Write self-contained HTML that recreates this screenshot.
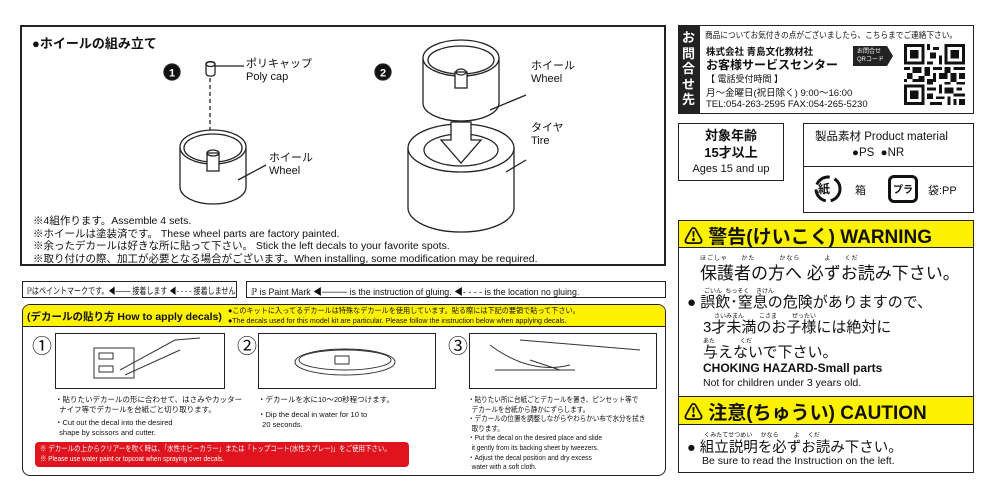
<!DOCTYPE html>
<html><head><meta charset="utf-8"><style>
*{margin:0;padding:0;box-sizing:border-box}
body{width:1000px;height:499px;background:#fff;position:relative;overflow:hidden;font-family:"Liberation Sans","Noto Sans CJK JP",sans-serif;color:#111}
.a{position:absolute;white-space:nowrap}
.box{position:absolute;border:1.5px solid #222}
.b{font-weight:bold}
.yl{background:#fff200}
.sx{transform-origin:0 0}
</style></head><body>

<div class="box" style="left:20px;top:25px;width:646px;height:241px;border-width:2px"></div>
<div class="a b" style="left:32px;top:33px;font-size:13px">●ホイールの組み立て</div>

<svg class="a" style="left:0;top:0" width="670" height="270">
 <g fill="none" stroke="#222" stroke-width="1.3">
  <circle cx="172" cy="72" r="8" fill="#111"/>
  <rect x="206" y="62" width="9" height="14" rx="3" fill="#fff"/>
  <ellipse cx="210.5" cy="64" rx="4.5" ry="2.5"/>
  <line x1="215" y1="66" x2="244" y2="66"/>
  <line x1="210" y1="78" x2="210" y2="156" stroke-dasharray="4 3"/>
  <path d="M180 147 v40 a33 17 0 0 0 66 0 v-40"/>
  <ellipse cx="213" cy="147" rx="33" ry="17" fill="#fff"/>
  <ellipse cx="213" cy="148" rx="29" ry="14"/>
  <rect x="207" y="153" width="12" height="18" fill="#fff"/>
  <ellipse cx="213" cy="153" rx="6" ry="3"/>
  <line x1="238" y1="180" x2="266" y2="165"/>
  <circle cx="383" cy="72" r="8" fill="#111"/>
  <path d="M423 58 v45 a38 18 0 0 0 76 0 v-45"/>
  <ellipse cx="461" cy="58" rx="38" ry="18" fill="#fff"/>
  <ellipse cx="461" cy="60" rx="33" ry="14"/>
  <rect x="455" y="72" width="12" height="16" fill="#fff"/>
  <ellipse cx="461" cy="72" rx="5" ry="3"/>
  <line x1="490" y1="110" x2="526" y2="95"/>
  <path d="M408 148 v60 a53 24 0 0 0 106 0 v-60"/>
  <ellipse cx="461" cy="148" rx="53" ry="24" fill="#fff"/>
  <ellipse cx="461" cy="150" rx="37" ry="16"/>
  <polygon points="451,122 471,122 471,140 481,140 461,163 441,140 451,140" fill="#fff"/>
  <line x1="506" y1="172" x2="526" y2="160"/>
 </g>
 <text x="172" y="76.5" fill="#fff" font-size="11" font-weight="bold" text-anchor="middle" font-family="Liberation Sans">1</text>
 <text x="383" y="76.5" fill="#fff" font-size="11" font-weight="bold" text-anchor="middle" font-family="Liberation Sans">2</text>
</svg>
<div class="a" style="left:246px;top:58px;font-size:11px;line-height:13px">ポリキャップ<br>Poly cap</div>
<div class="a" style="left:269px;top:152px;font-size:11px;line-height:13px">ホイール<br>Wheel</div>
<div class="a" style="left:531px;top:60px;font-size:11px;line-height:13px">ホイール<br>Wheel</div>
<div class="a" style="left:531px;top:122px;font-size:11px;line-height:13px">タイヤ<br>Tire</div>

<div class="a" style="left:33px;top:215px;font-size:10.5px;line-height:12.5px">※4組作ります。Assemble 4 sets.<br>※ホイールは塗装済です。 These wheel parts are factory painted.<br>※余ったデカールは好きな所に貼って下さい。 Stick the left decals to your favorite spots.<br>※取り付けの際、加工が必要となる場合がございます。When installing, some modification may be required.</div>

<div class="box" style="left:22px;top:281px;width:215px;height:17px;border-width:1px"></div>
<div class="a sx" style="left:27px;top:284px;font-size:9px;transform:scaleX(0.78)">&#x2119;はペイントマークです。◀─── 接着します ◀- - - - 接着しません</div>
<div class="box" style="left:246px;top:281px;width:420px;height:17px;border-width:1px"></div>
<div class="a sx" style="left:251px;top:284px;font-size:9.5px;transform:scaleX(0.93)">&#x2119; is Paint Mark ◀──── is the instruction of gluing. ◀- - - - is the location no gluing.</div>

<div class="box" style="left:22px;top:304px;width:644px;height:172px;border-radius:8px;overflow:hidden;border-width:1.5px">
 <div class="yl" style="height:22px;border-bottom:1px solid #222"></div>
</div>
<div class="a b" style="left:27px;top:309px;font-size:10.5px">(デカールの貼り方 How to apply decals)</div>
<div class="a sx" style="left:228px;top:306px;font-size:7.5px;line-height:9.5px;transform:scaleX(0.95)">●このキットに入ってるデカールは特殊なデカールを使用しています。貼る際には下記の要領で貼って下さい。<br>●The decals used for this model kit are particular. Please follow the instruction below when applying decals.</div>

<div class="a" style="left:32px;top:330px;font-size:20px">①</div>
<div class="box" style="left:55px;top:333px;width:170px;height:56px;border-width:1px"></div>
<div class="a" style="left:237px;top:330px;font-size:20px">②</div>
<div class="box" style="left:258px;top:333px;width:178px;height:56px;border-width:1px"></div>
<div class="a" style="left:448px;top:330px;font-size:20px">③</div>
<div class="box" style="left:469px;top:333px;width:188px;height:56px;border-width:1px"></div>
<svg class="a" style="left:0;top:0" width="670" height="400"><g fill="none" stroke="#333" stroke-width="1">
 <rect x="94" y="348" width="40" height="30"/><rect x="99" y="353" width="14" height="6"/><rect x="99" y="366" width="14" height="6"/>
 <path d="M120 370 L175 340 L200 338 M125 375 L180 350"/>
 <ellipse cx="345" cy="362" rx="50" ry="13"/><ellipse cx="345" cy="360" rx="46" ry="10"/><rect x="335" y="356" width="14" height="8"/>
 <path d="M490 345 q40 30 80 20 M520 340 L640 350 M530 360 L560 370 M495 370 h80"/>
</g></svg>

<div class="a" style="left:55px;top:395px;font-size:7.5px;line-height:10px">・貼りたいデカールの形に合わせて、はさみやカッター<br>&nbsp;&nbsp;ナイフ等でデカールを台紙ごと切り取ります。</div>
<div class="a" style="left:55px;top:418px;font-size:7.5px;line-height:10px">・Cut out the decal into the desired<br>&nbsp;&nbsp;shape by scissors and cutter.</div>
<div class="a" style="left:258px;top:395px;font-size:7.5px;line-height:10px">・デカールを水に10～20秒程つけます。</div>
<div class="a" style="left:258px;top:410px;font-size:7.5px;line-height:10px">・Dip the decal in water for 10 to<br>&nbsp;&nbsp;20 seconds.</div>
<div class="a sx" style="left:468px;top:395px;font-size:7.3px;line-height:9.6px;transform:scaleX(0.9)">・貼りたい所に台紙ごとデカールを置き、ピンセット等で<br>&nbsp;&nbsp;デカールを台紙から静かにずらします。<br>・デカールの位置を調整しながらやわらかい布で水分を拭き<br>&nbsp;&nbsp;取ります。<br>・Put the decal on the desired place and slide<br>&nbsp;&nbsp;it gently from its backing sheet by tweezers.<br>・Adjust the decal position and dry excess<br>&nbsp;&nbsp;water with a soft cloth.</div>
<div class="a" style="left:35px;top:442px;width:374px;height:25px;background:#e0141e;border-radius:4px"></div>
<div class="a sx" style="left:40px;top:444px;font-size:7.5px;line-height:10px;color:#fff;transform:scaleX(0.86)">※ デカールの上からクリアーを吹く時は、「水性ホビーカラー」または「トップコート(水性スプレー)」をご使用下さい。<br>※ Please use water paint or topcoat when spraying over decals.</div>

<div class="box" style="left:678px;top:25px;width:296px;height:89px;border-width:1.5px"></div>
<div class="a" style="left:678px;top:25px;width:22px;height:89px;background:#222"></div>
<div class="a b" style="left:682px;top:30px;font-size:13px;line-height:15.5px;color:#fff;white-space:normal;width:15px">お問合せ先</div>
<div class="a sx" style="left:705px;top:29px;font-size:8.5px;transform:scaleX(0.9)">商品についてお気付きの点がございましたら、こちらまでご連絡下さい。</div>
<div class="a b" style="left:706px;top:44px;font-size:9.5px">株式会社 青島文化教材社</div>
<div class="a b" style="left:706px;top:56px;font-size:12px">お客様サービスセンター</div>
<div class="a" style="left:706px;top:72px;font-size:9px">【 電話受付時間 】</div>
<div class="a" style="left:706px;top:85px;font-size:9.5px">月～金曜日(祝日除く) 9:00～16:00</div>
<div class="a" style="left:706px;top:99px;font-size:9.5px">TEL:054-263-2595 FAX:054-265-5230</div>
<div class="a" style="left:853px;top:46px;width:40px;height:20px;background:#222;clip-path:polygon(0 0,85% 0,100% 50%,85% 100%,0 100%)"></div>
<div class="a" style="left:857px;top:48px;font-size:6px;line-height:8px;color:#fff">お問合せ<br>QRコード</div>
<svg class="a" style="left:904px;top:44px" width="61" height="61" viewBox="0 0 21 21" shape-rendering="crispEdges">
 <g fill="#111"><path d="M0 0h7v7h-7z M14 0h7v7h-7z M0 14h7v7h-7z" /></g>
 <g fill="#fff"><path d="M1 1h5v5h-5z M15 1h5v5h-5z M1 15h5v5h-5z"/></g>
 <g fill="#111"><path d="M2 2h3v3h-3z M16 2h3v3h-3z M2 16h3v3h-3z
 M8 0h1v2h-1z M10 1h2v1h-2z M9 3h2v2h-2z M12 4h1v3h-1z M8 6h2v1h-2z
 M0 8h2v1h-2z M3 8h3v2h-3z M7 8h2v3h-2z M10 8h3v1h-3z M14 8h2v2h-2z M17 8h4v1h-4z
 M1 10h2v2h-2z M5 11h2v1h-2z M10 10h1v3h-1z M12 10h3v2h-3z M16 10h2v3h-2z M19 10h2v2h-2z
 M0 12h1v1h-1z M3 12h4v1h-4z M8 12h2v2h-2z M14 13h2v1h-2z M18 13h3v1h-3z
 M8 15h3v1h-3z M12 14h1v3h-1z M14 15h3v2h-3z M18 15h2v1h-2z
 M8 17h2v2h-2z M11 18h3v1h-3z M15 18h1v3h-1z M17 17h4v1h-4z M19 19h2v2h-2z M9 20h4v1h-4z M17 19h1v2h-1z"/></g>
</svg>

<div class="box" style="left:678px;top:123px;width:106px;height:58px;border-width:1px"></div>
<div class="a b" style="left:678px;top:127px;width:106px;text-align:center;font-size:13px;line-height:17px">対象年齢<br>15才以上</div>
<div class="a" style="left:678px;top:163px;width:106px;text-align:center;font-size:11px">Ages 15 and up</div>

<div class="box" style="left:803px;top:123px;width:171px;height:90px;border-width:1px"></div>
<div class="a" style="left:803px;top:166px;width:171px;border-top:1px solid #222"></div>
<div class="a" style="left:815px;top:128px;font-size:11.5px">製品素材 Product material</div>
<div class="a" style="left:852px;top:147px;font-size:11.5px">●PS &nbsp;●NR</div>
<svg class="a" style="left:812px;top:173px" width="32" height="32"><circle cx="16" cy="16" r="12" fill="none" stroke="#111" stroke-width="3" stroke-dasharray="16 5"/></svg>
<div class="a b" style="left:818px;top:180px;font-size:12px">紙</div>
<div class="a" style="left:855px;top:182px;font-size:11px">箱</div>
<div class="a" style="left:888px;top:175px;width:30px;height:28px;border:3px solid #111;border-radius:6px"></div>
<div class="a b" style="left:893px;top:181px;font-size:10px">プラ</div>
<div class="a" style="left:928px;top:182px;font-size:11px">袋:PP</div>

<div class="box" style="left:678px;top:220px;width:296px;height:253px;border-width:1px"></div>
<div class="a yl" style="left:679px;top:221px;width:294px;height:27px;border-bottom:1px solid #222"></div>
<div class="a b" style="left:684px;top:222px;font-size:19px">⚠ 警告(けいこく) WARNING</div>
<div class="a" style="left:700px;top:253px;font-size:6px;letter-spacing:1px">ほごしゃ &nbsp; &nbsp; かた &nbsp; &nbsp; &nbsp; &nbsp; かなら &nbsp; &nbsp; &nbsp; &nbsp; よ &nbsp; &nbsp; くだ</div>
<div class="a" style="left:700px;top:259px;font-size:17px">保護者の方へ 必ずお読み下さい。</div>
<div class="a" style="left:704px;top:286px;font-size:6px">ごいん &nbsp;ちっそく &nbsp; &nbsp;きけん</div>
<div class="a" style="left:687px;top:291px;font-size:15px">● 誤飲･窒息の危険がありますので、</div>
<div class="a" style="left:714px;top:311px;font-size:6px">さいみまん &nbsp; &nbsp; &nbsp; &nbsp; こさま &nbsp; &nbsp; &nbsp; &nbsp; ぜったい</div>
<div class="a" style="left:703px;top:316px;font-size:15px">3才未満のお子様には絶対に</div>
<div class="a" style="left:703px;top:336px;font-size:6px">あた &nbsp; &nbsp; &nbsp; &nbsp; &nbsp; &nbsp; &nbsp; くだ</div>
<div class="a" style="left:703px;top:341px;font-size:15px">与えないで下さい。</div>
<div class="a b" style="left:703px;top:361px;font-size:12px">CHOKING HAZARD-Small parts</div>
<div class="a" style="left:703px;top:377px;font-size:10.5px">Not for children under 3 years old.</div>
<div class="a yl" style="left:679px;top:396px;width:294px;height:29px;border-top:1px solid #222;border-bottom:1px solid #222"></div>
<div class="a b" style="left:684px;top:398px;font-size:19px">⚠ 注意(ちゅうい) CAUTION</div>
<div class="a" style="left:704px;top:430px;font-size:6px">くみたてせつめい &nbsp; &nbsp; かなら &nbsp; &nbsp; &nbsp; &nbsp; よ &nbsp; &nbsp; くだ</div>
<div class="a" style="left:687px;top:436px;font-size:14.5px">● 組立説明を必ずお読み下さい。</div>
<div class="a" style="left:702px;top:455px;font-size:10.5px">Be sure to read the Instruction on the left.</div>

</body></html>
